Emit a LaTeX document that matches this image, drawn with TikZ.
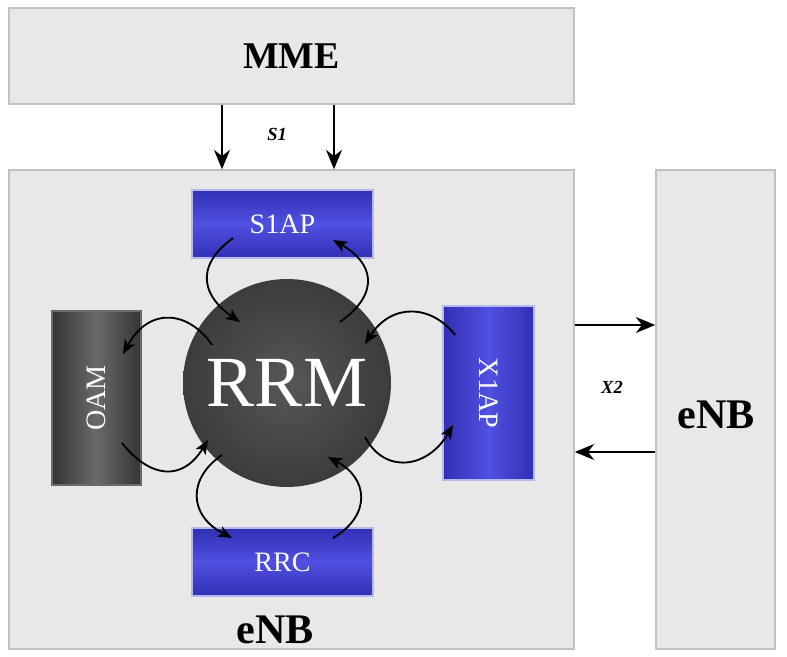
\documentclass[tikz,border=0pt]{standalone}
\usepackage{fontspec}
\setmainfont{Liberation Serif}
\usetikzlibrary{arrows.meta}
\definecolor{panelgray}{HTML}{E8E8E8}
\definecolor{panelline}{HTML}{C2C2C2}
\definecolor{bluedark}{HTML}{3030B4}
\definecolor{bluelight}{HTML}{5050E2}
\definecolor{bluerim}{HTML}{B8B8F0}
\definecolor{graydark}{HTML}{343434}
\definecolor{graylight}{HTML}{6A6A6A}
\definecolor{rrmcenter}{HTML}{575757}
\definecolor{rrmrim}{HTML}{3C3C3C}
\tikzset{
    panel/.style={draw=panelline, fill=panelgray, line width=0.9pt},
    bluebox/.style={draw=bluerim, line width=0.6pt, text=white, font=\fontsize{16}{16}\selectfont},
    bigarrow/.style={line width=1.6pt, -{Stealth[length=11pt,width=9pt,inset=3.5pt]}},
    curlyarrow/.style={line width=1.05pt, -{Stealth[length=8pt,width=6.5pt,inset=2pt]}},
}
\begin{document}
\begin{tikzpicture}[x=0.02cm, y=-0.02cm]
    \useasboundingbox[fill=white] (0,0) rectangle (787,656);
    % outer boxes
    \node[panel, minimum width=11.3cm, minimum height=1.92cm, font=\bfseries\fontsize{21.5}{21.5}\selectfont] (mme) at (291.5,56) {MME};
    \node[panel, minimum width=11.3cm, minimum height=9.58cm] (enb) at (291.5,409.5) {};
    \node[panel, minimum width=2.38cm, minimum height=9.58cm] (enbr) at (715.5,409.5) {};
    \node[font=\bfseries\fontsize{24}{24}\selectfont] (enblabel) at (275,630) {eNB};
    \node[font=\bfseries\fontsize{24}{24}\selectfont] (enbrlabel) at (716,415) {eNB};
    % inner blocks
    \node[bluebox, top color=bluedark, bottom color=bluedark, middle color=bluelight, minimum width=3.62cm, minimum height=1.36cm] (s1ap) at (282.5,224) {S1AP};
    \node[bluebox, top color=bluedark, bottom color=bluedark, middle color=bluelight, minimum width=3.62cm, minimum height=1.36cm] (rrc) at (282.5,562) {RRC};
    \node[bluebox, left color=bluedark, right color=bluedark, middle color=bluelight, minimum width=1.82cm, minimum height=3.48cm] (x1ap) at (488.5,393) {\rotatebox{-90}{X1AP}};
    \node[bluebox, draw=graylight, left color=graydark, right color=graydark, middle color=graylight, minimum width=1.78cm, minimum height=3.48cm] (oam) at (96.5,398) {\rotatebox{90}{OAM}};
    \node[circle, inner color=rrmcenter, outer color=rrmrim, minimum size=4.16cm, text=white, font=\fontsize{41}{41}\selectfont] (rrm) at (287,383) {RRM};
    % interface labels
    \node[font=\bfseries\itshape\fontsize{10.5}{10.5}\selectfont] (s1) at (277,134) {S1};
    \node[font=\bfseries\itshape\fontsize{10.5}{10.5}\selectfont] (x2) at (612,387) {X2};
    % S1 and X2 arrows
    \coordinate (s1left) at (222,0);
    \coordinate (s1right) at (334,0);
    \coordinate (x2top) at (0,325);
    \coordinate (x2bottom) at (0,452);
    \draw[bigarrow] (mme.south -| s1left) -- (enb.north -| s1left);
    \draw[bigarrow] (mme.south -| s1right) -- (enb.north -| s1right);
    \draw[bigarrow] (enb.east |- x2top) -- (enbr.west |- x2top);
    \draw[bigarrow] (enbr.west |- x2bottom) -- (enb.east |- x2bottom);
    % ends of the curved arrows
    \coordinate (s1apout) at (233,238);
    \coordinate (s1apin) at (333,240);
    \coordinate (rrmtopl) at (240,322);
    \coordinate (rrmtopr) at (340,322);
    \coordinate (oamin) at (123,354);
    \coordinate (oamout) at (122,443);
    \coordinate (rrmleftt) at (212,345);
    \coordinate (rrmleftb) at (208,440);
    \coordinate (x1apout) at (455,335);
    \coordinate (x1apin) at (453,425);
    \coordinate (rrmrightt) at (365,344);
    \coordinate (rrmrightb) at (365,437);
    \coordinate (rrcin) at (232,538);
    \coordinate (rrcout) at (333,538);
    \coordinate (rrmbotl) at (222,455);
    \coordinate (rrmbotr) at (328,457);
    % curved arrows
    \draw[curlyarrow] (s1apout) .. controls (192,268) and (205,298) .. (rrmtopl);
    \draw[curlyarrow] (rrmtopr) .. controls (382,292) and (372,262) .. (s1apin);
    \draw[curlyarrow] (rrmleftt) .. controls (190,312) and (150,305) .. (oamin);
    \draw[curlyarrow] (oamout) .. controls (150,478) and (182,482) .. (rrmleftb);
    \draw[curlyarrow] (x1apout) .. controls (432,305) and (392,302) .. (rrmrightt);
    \draw[curlyarrow] (rrmrightb) .. controls (385,475) and (428,468) .. (x1apin);
    \draw[curlyarrow] (rrmbotl) .. controls (188,478) and (188,515) .. (rrcin);
    \draw[curlyarrow] (rrcout) .. controls (372,515) and (368,478) .. (rrmbotr);
\end{tikzpicture}
\end{document}
